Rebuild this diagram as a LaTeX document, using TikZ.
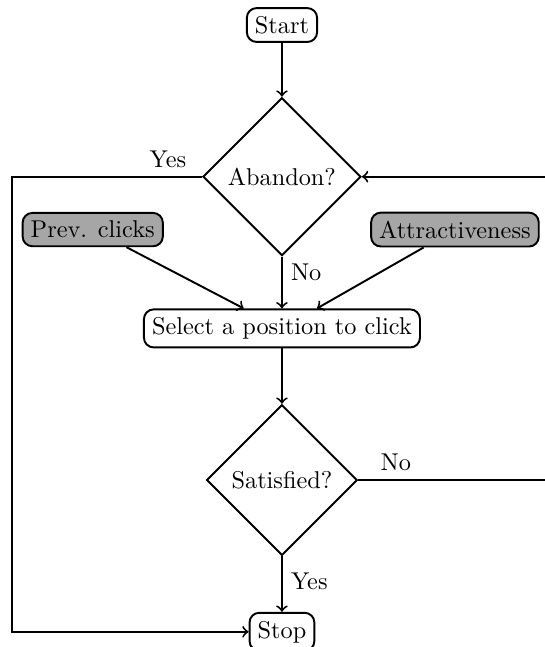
\documentclass[tikz,border=0pt]{standalone}
\usetikzlibrary{shapes.geometric}
\begin{document}
\begin{tikzpicture}[thick,
  kbox/.style={draw,rounded corners},
  kinput/.style={kbox,fill=black!35},
  kdecide/.style={draw,diamond,aspect=1}]
\pgfmathsetmacro{\kystep}{2.195}
\pgfmathsetmacro{\kleft}{-3.9}
\pgfmathsetmacro{\kright}{4.5}
\useasboundingbox(-4.08,0.362)rectangle(3.806,-9.0);
\draw(0,0)node[kbox](start){Start};
\draw(0,-\kystep)node[kdecide](abandon){Abandon?};
\draw(-2.738,-2.96)node[kinput](prev){Prev. clicks};
\draw(2.503,-2.96)node[kinput](attr){Attractiveness};
\draw(0,-2*\kystep)node[kbox](select){Select a position to click};
\draw(0,-3*\kystep)node[kdecide](satisfied){Satisfied?};
\draw(0,-4*\kystep)node[kbox](stop){Stop};
\coordinate(kl) at (\kleft,-\kystep);
\coordinate(kr) at (\kright,-3*\kystep);
\draw[->](start)--(abandon);
\draw[->](abandon)--node[pos=0.3,right]{No}(select);
\draw[->](prev)--(select);
\draw[->](attr)--(select);
\draw[->](select)--(satisfied);
\draw[->](satisfied)--node[pos=0.45,right]{Yes}(stop);
\draw[->](abandon.west)--node[pos=0.18,above]{Yes}(kl)|-(stop.west);
\draw[->](satisfied.east)--node[pos=0.16,above]{No}(kr)|-(abandon.east);
\end{tikzpicture}
\end{document}
